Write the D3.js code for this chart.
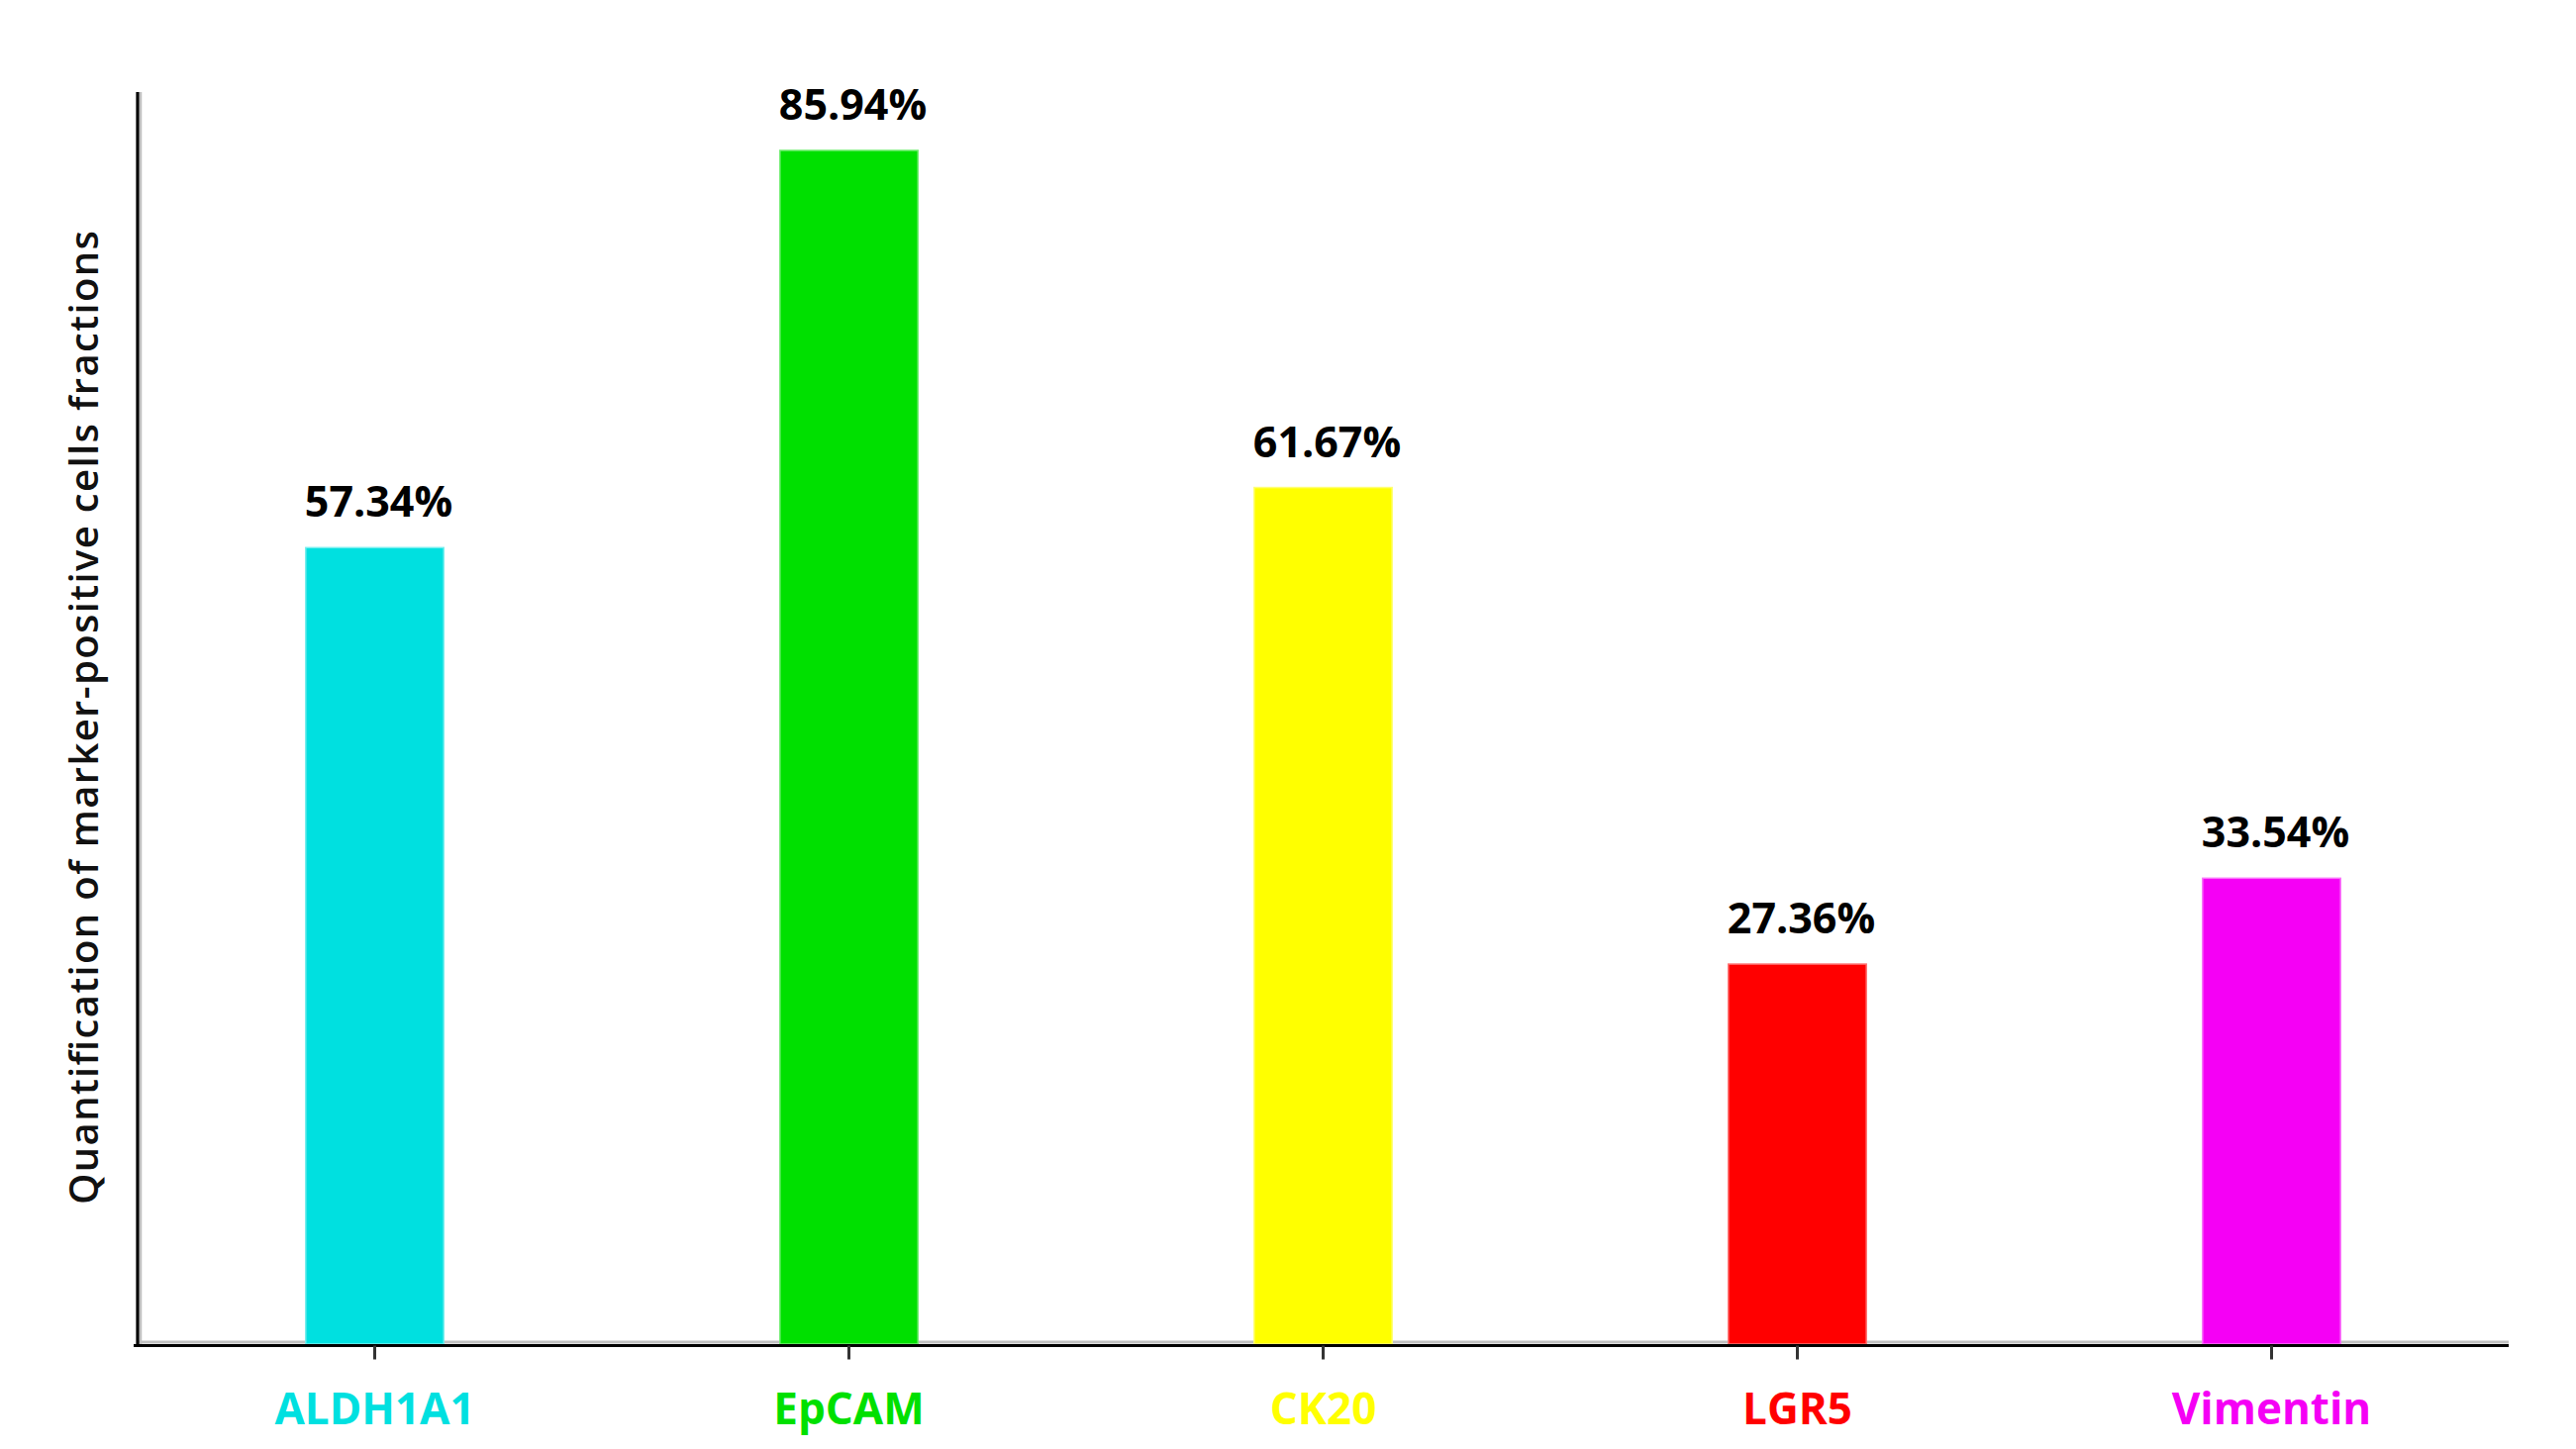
<!DOCTYPE html>
<html>
<head>
<meta charset="utf-8">
<script src="https://cdn.jsdelivr.net/npm/d3@7"></script>
<style>
  html, body { margin: 0; padding: 0; background: #ffffff; }
  svg { display: block; }
</style>
</head>
<body>
<div id="chart"></div>
<script>
// ---- data ----
const categories = ["ALDH1A1", "EpCAM", "CK20", "LGR5", "Vimentin"];
const values = [57.34, 85.94, 61.67, 27.36, 33.54];
const valueLabels = ["57.34%", "85.94%", "61.67%", "27.36%", "33.54%"];
const barColors = ["#00E0E0", "#00E000", "#FFFF00", "#FF0000", "#F500F5"];
const yTitle = "Quantification of marker-positive cells fractions";
const yDomain = [0, 90];

// ---- layout ----
const W = 2602, H = 1464;
const x0 = 139, x1 = 2534, yBase = 1358, yTop = 95;

const svg = d3.select("#chart").append("svg")
  .attr("width", W).attr("height", H)
  .style("font-family", "'Open Sans', 'Noto Sans', sans-serif");

const x = d3.scaleBand().domain(categories).range([x0, x1])
  .paddingInner(0.709).paddingOuter(0.709 / 2);
const y = d3.scaleLinear().domain(yDomain).range([yBase, yTop]);

const data = categories.map((c, i) => ({ c, v: values[i], label: valueLabels[i], color: barColors[i] }));

// grey shadow lines of axes
svg.append("line")
  .attr("x1", x0).attr("x2", x1).attr("y1", yBase - 2).attr("y2", yBase - 2)
  .attr("stroke", "#c0c0c0").attr("stroke-width", 3);
svg.append("line")
  .attr("x1", x0 + 3).attr("x2", x0 + 3).attr("y1", y(yDomain[1]) - 2).attr("y2", yBase)
  .attr("stroke", "#c0c0c0").attr("stroke-width", 2.5);

// bars
svg.append("g").selectAll("rect").data(data).join("rect")
  .attr("x", d => x(d.c))
  .attr("y", d => y(d.v))
  .attr("width", x.bandwidth())
  .attr("height", d => y(0) - y(d.v))
  .attr("fill", d => d.color)
  .attr("stroke", d => d3.interpolateRgb(d.color, "#ffffff")(0.45))
  .attr("stroke-width", 1.5);

// value labels
svg.append("g").selectAll("text").data(data).join("text")
  .attr("x", d => x(d.c) + x.bandwidth() / 2 + 4)
  .attr("y", d => y(d.v) - 31)
  .attr("text-anchor", "middle")
  .attr("font-size", 43)
  .attr("font-weight", 700)
  .attr("fill", "#000")
  .text(d => d.label);

// x axis
const xAxis = svg.append("g")
  .attr("transform", `translate(0,${yBase + 1.5})`)
  .call(d3.axisBottom(x).tickSizeInner(14).tickSizeOuter(0).tickPadding(34));
xAxis.select(".domain").attr("stroke", "#000").attr("stroke-width", 3.2)
  .attr("d", `M${x0 - 4},0H${x1}`);
xAxis.selectAll(".tick line").attr("stroke", "#333").attr("stroke-width", 3);
xAxis.selectAll(".tick text")
  .attr("font-size", 44)
  .attr("font-weight", 700)
  .attr("font-family", "'Open Sans', 'Noto Sans', sans-serif")
  .attr("fill", (d, i) => barColors[i]);

// y axis line (no ticks)
const yAxis = svg.append("g")
  .attr("transform", `translate(${x0},0)`)
  .call(d3.axisLeft(y).tickValues([]).tickSizeOuter(0));
yAxis.select(".domain").attr("stroke", "#000").attr("stroke-width", 3.2)
  .attr("d", `M0,${y(yDomain[1]) - 2}V${yBase + 3}`);

// y title
svg.append("text")
  .attr("transform", `translate(99,${725}) rotate(-90)`)
  .attr("text-anchor", "middle")
  .attr("font-size", 40)
  .attr("font-weight", 600)
  .attr("fill", "#111")
  .attr("textLength", 984)
  .attr("lengthAdjust", "spacing")
  .text(yTitle);
</script>
</body>
</html>
